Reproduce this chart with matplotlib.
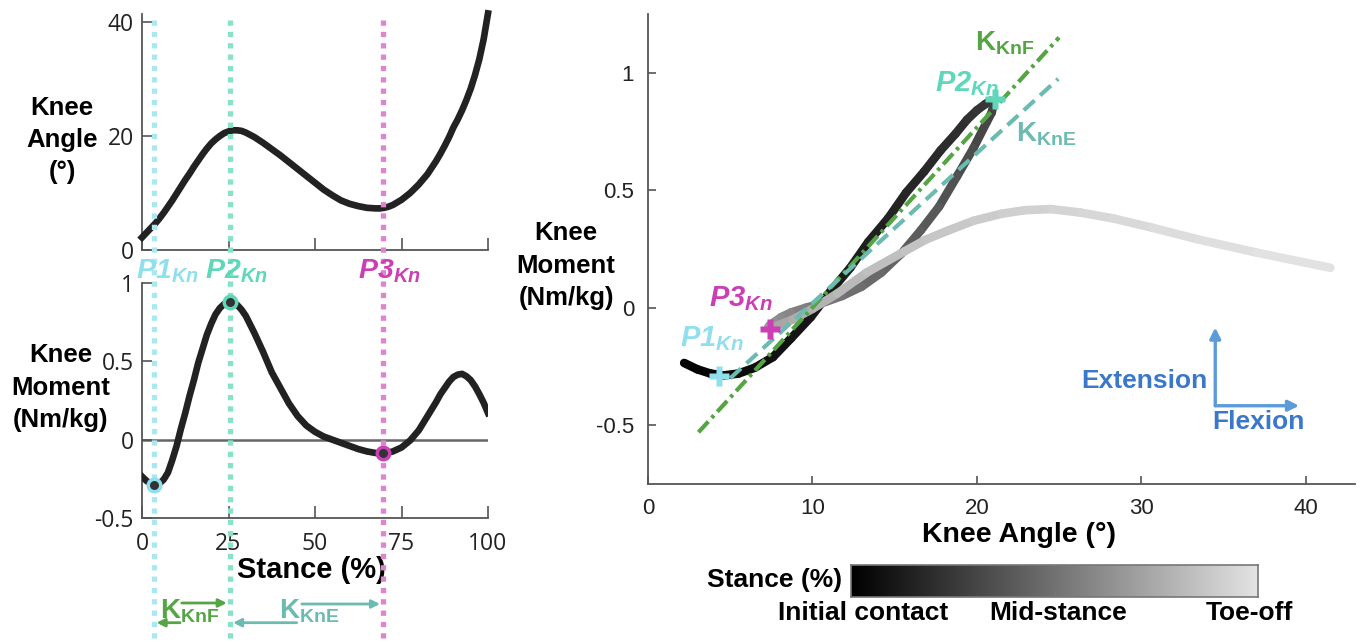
import matplotlib
matplotlib.use('Agg')
import matplotlib.pyplot as plt
from matplotlib.collections import LineCollection
from matplotlib.colors import LinearSegmentedColormap
import numpy as np

plt.rcParams['font.family'] = ['Liberation Sans', 'DejaVu Sans']
plt.rcParams['mathtext.fontset'] = 'custom'
plt.rcParams['mathtext.rm'] = 'Liberation Sans'
plt.rcParams['mathtext.sf'] = 'Liberation Sans:italic:bold'
plt.rcParams['mathtext.bf'] = 'Liberation Sans:bold'

# stance (%) - finer where the curves bend
stance = [0, 1.25, 2.5, 3.75, 5, 6.25, 7.5, 8.75, 10, 11.25, 12.5, 13.75, 15,
          16.25, 17.5, 18.75, 20, 21.25, 22.5, 23.75, 25, 26.25, 27.5, 28.75,
          30, 32.5, 35, 37.5, 40, 42.5, 45, 47.5, 50, 52.5, 55, 57.5, 60, 62.5,
          65, 66.25, 67.5, 68.75, 70, 71.25, 72.5, 75, 77.5, 80, 82.5, 85,
          86.25, 87.5, 88.75, 90, 91.25, 92.5, 93.75, 95, 96.25, 97.5, 98.75, 100]
knee_angle = [2.2, 3.0, 3.8, 4.6, 5.5, 6.5, 7.6, 8.7, 9.9, 11.1, 12.3, 13.4, 14.6,
              15.7, 16.8, 17.8, 18.7, 19.4, 20.0, 20.5, 20.8, 21.0, 21.0, 20.9,
              20.6, 19.8, 18.8, 17.7, 16.6, 15.4, 14.2, 13.0, 11.8, 10.6, 9.6,
              8.7, 8.1, 7.7, 7.4, 7.35, 7.3, 7.3, 7.4, 7.6, 7.9, 8.8, 10.0, 11.5,
              13.3, 15.6, 16.9, 18.3, 19.8, 21.5, 22.9, 24.5, 26.3, 28.3, 30.7,
              33.5, 37.0, 41.5]
knee_moment = [-0.235, -0.262, -0.28, -0.288, -0.28, -0.255, -0.21, -0.13, -0.04,
               0.07, 0.17, 0.28, 0.38, 0.49, 0.58, 0.67, 0.74, 0.80, 0.84, 0.866,
               0.88, 0.879, 0.86, 0.83, 0.79, 0.68, 0.56, 0.43, 0.33, 0.23, 0.15,
               0.09, 0.05, 0.02, 0.0, -0.02, -0.04, -0.06, -0.075, -0.08, -0.085,
               -0.087, -0.085, -0.082, -0.075, -0.05, -0.005, 0.06, 0.15, 0.24,
               0.29, 0.33, 0.37, 0.40, 0.415, 0.42, 0.405, 0.38, 0.34, 0.29, 0.235,
               0.17]

# key events
event_names = ['P1', 'P2', 'P3']
event_stance = [3.5, 25.5, 69.7]
event_moment = [-0.29, 0.88, -0.087]
event_angle = [4.3, 21.1, 7.4]
event_moment_r = [-0.29, 0.89, -0.09]
event_text = ['#8fdfee', '#5ed7ba', '#cc3fb4']
event_line = ['#a9e7f3', '#88e2c8', '#df85d0']

# stiffness fits (angle, moment) end points
kknf_x = [3.07, 25.0]
kknf_y = [-0.53, 1.15]
kkne_x = [5.0, 24.95]
kkne_y = [-0.30, 0.974]
green = '#55a545'
teal = '#6cbbb0'
blue_txt = '#3b78c9'
blue_arr = '#5b9bd8'

bar_labels = ['Initial contact', 'Mid-stance', 'Toe-off']
bar_label_pos = [3, 51, 98]

W, H = 1362, 641
fig = plt.figure(figsize=(W / 100, H / 100), dpi=100)


def event_label(name):
    return r'$\mathsf{' + name + r'}_{\mathsf{Kn}}$'


def stacked_label(x, ys, lines):
    # one text per line so each line keeps its own box
    for y, line in zip(ys, lines):
        fig.text(x / W, 1 - y / H, line, ha='center', va='center',
                 fontsize=18.5, fontweight='bold')


def style_left(ax):
    for s in ['top', 'right']:
        ax.spines[s].set_visible(False)
    for s in ['left', 'bottom']:
        ax.spines[s].set_color('#555')
        ax.spines[s].set_linewidth(1.3)
    ax.tick_params(direction='in', length=9, width=1.2, colors='#555',
                   labelcolor='#222', labelsize=16.5)
    ax.tick_params(axis='y', pad=6, length=7)
    ax.tick_params(axis='x', pad=10)
    for lab in ax.get_xticklabels() + ax.get_yticklabels():
        lab.set_fontfamily('Open Sans')


# knee angle vs stance
ax1 = fig.add_axes([142 / W, 1 - 250 / H, 346 / W, 236 / H])
ax1.plot(stance, knee_angle, color='#222', lw=4.8, clip_on=False, zorder=3,
         solid_joinstyle='round')
ax1.set_xlim(0, 100)
ax1.set_ylim(0, 41.4)
ax1.set_yticks([0, 20, 40])
ax1.set_xticks([0, 25, 50, 75, 100])
ax1.set_xticklabels([])
style_left(ax1)
stacked_label(62, [108, 140, 172], ['Knee', 'Angle', '(°)'])

# knee moment vs stance
ax2 = fig.add_axes([142 / W, 1 - 518 / H, 346 / W, 235 / H])
ax2.axhline(0, color='#666', lw=1.8, zorder=1)
ax2.plot(stance, knee_moment, color='#222', lw=4.8, zorder=3, solid_joinstyle='round')
ax2.set_xlim(0, 100)
ax2.set_ylim(-0.5, 1)
ax2.set_yticks([-0.5, 0, 0.5, 1])
ax2.set_yticklabels(['-0.5', '0', '0.5', '1'])
ax2.set_xticks([0, 25, 50, 75, 100])
style_left(ax2)
stacked_label(61, [355, 388, 420], ['Knee', 'Moment', '(Nm/kg)'])
fig.text(311 / W, 1 - 570 / H, 'Stance (%)', ha='center', va='center',
         fontsize=21, fontweight='bold')

# overlay for event lines spanning the left panels
ov = fig.add_axes([142 / W, 0, 346 / W, 1], zorder=5)
ov.set_xlim(0, 100)
ov.set_ylim(H, 0)
ov.axis('off')
ov.patch.set_alpha(0)
label_left = [-1.6, 18.2, 62.4]
for i, name in enumerate(event_names):
    ov.plot([event_stance[i]] * 2, [20, H], color=event_line[i], lw=3.8,
            linestyle=(0, (1, 1.15)), solid_capstyle='butt')
    ov.plot(event_stance[i], event_moment[i], 'o', transform=ax2.transData,
            ms=9, mfc='#333', mec=event_text[i], mew=2.5, zorder=6)
    ov.text(label_left[i], 278, event_label(name),
            color=event_text[i], fontsize=20.5, ha='left', va='baseline')

arrow_kw = dict(arrowstyle='-|>', lw=2, mutation_scale=12, shrinkA=0, shrinkB=0)
ov.annotate('', xy=(24.5, 603), xytext=(11.5, 603), arrowprops=dict(color=green, **arrow_kw))
ov.annotate('', xy=(4.2, 622.7), xytext=(11.0, 622.7), arrowprops=dict(color=green, **arrow_kw))
ov.annotate('', xy=(26.3, 622.7), xytext=(44.7, 622.7), arrowprops=dict(color=teal, **arrow_kw))
ov.annotate('', xy=(68.8, 604), xytext=(46.2, 604), arrowprops=dict(color=teal, **arrow_kw))
ov.text(5.3, 618, r'$\mathbf{K}_{\mathbf{KnF}}$', color=green, fontsize=20,
        ha='left', va='baseline')
ov.text(39.7, 618, r'$\mathbf{K}_{\mathbf{KnE}}$', color=teal, fontsize=20,
        ha='left', va='baseline')

# knee moment vs knee angle
ax3 = fig.add_axes([648 / W, 1 - 484 / H, 707 / W, 470 / H])
cmap = LinearSegmentedColormap.from_list('stance', ['#000000', '#e3e3e3'])
pts = np.column_stack([knee_angle, knee_moment])
segs = np.stack([pts[:-1], pts[1:]], axis=1)
st = np.array(stance)
mid = (st[:-1] + st[1:]) / 2 / 100
lc = LineCollection(segs, colors=cmap(mid), linewidths=6.2, capstyle='round',
                    joinstyle='round', zorder=2)
ax3.add_collection(lc)
ax3.plot(kknf_x, kknf_y, color=green, lw=3, linestyle=(0, (3.5, 1.2, 0.8, 1.2)), zorder=4)
ax3.plot(kkne_x, kkne_y, color=teal, lw=3, linestyle=(0, (3.5, 1.8)), zorder=4)
for i in range(3):
    ax3.plot(event_angle[i], event_moment_r[i], 'P', ms=14, color=event_text[i],
             mec='none', zorder=6)
ax3.set_xlim(0, 43)
ax3.set_ylim(-0.75, 1.25)
ax3.set_xticks([0, 10, 20, 30, 40])
ax3.set_yticks([-0.5, 0, 0.5, 1])
ax3.set_yticklabels(['-0.5', '0', '0.5', '1'])
for s in ['top', 'right']:
    ax3.spines[s].set_visible(False)
for s in ['left', 'bottom']:
    ax3.spines[s].set_color('#555')
    ax3.spines[s].set_linewidth(1.3)
ax3.tick_params(direction='in', length=6, width=1.2, colors='#555',
                labelcolor='#222', labelsize=16, pad=10)

r_label_pos = [(1.95, -0.162), (17.45, 0.923), (3.7, 0.0085)]
for i, name in enumerate(event_names):
    ax3.text(r_label_pos[i][0], r_label_pos[i][1], event_label(name),
             color=event_text[i], fontsize=21, ha='left', va='baseline', zorder=7)
ax3.text(19.9, 1.094, r'$\mathbf{K}_{\mathbf{KnF}}$', color=green, fontsize=20,
         ha='left', va='baseline')
ax3.text(22.4, 0.71, r'$\mathbf{K}_{\mathbf{KnE}}$', color=teal, fontsize=20,
         ha='left', va='baseline')

ax3.annotate('', xy=(34.5, -0.084), xytext=(34.5, -0.417),
             arrowprops=dict(arrowstyle='-|>', lw=2.4, color=blue_arr,
                             mutation_scale=16, shrinkA=0, shrinkB=0))
ax3.annotate('', xy=(39.6, -0.417), xytext=(34.5, -0.417),
             arrowprops=dict(arrowstyle='-|>', lw=2.4, color=blue_arr,
                             mutation_scale=16, shrinkA=0, shrinkB=0))
ax3.text(34.0, -0.31, 'Extension', color=blue_txt, fontsize=19, fontweight='bold',
         ha='right', va='center')
ax3.text(34.3, -0.485, 'Flexion', color=blue_txt, fontsize=19, fontweight='bold',
         ha='left', va='center')

stacked_label(566, [233, 266, 298], ['Knee', 'Moment', '(Nm/kg)'])
fig.text(1019 / W, 1 - 535 / H, 'Knee Angle (°)', ha='center', va='center',
         fontsize=20.5, fontweight='bold')

# stance colour bar
cax = fig.add_axes([851 / W, 1 - 597 / H, 407 / W, 32 / H])
cax.imshow(np.linspace(0, 1, 256)[None, :], aspect='auto', cmap=cmap,
           extent=[0, 100, 0, 1])
for s in cax.spines.values():
    s.set_color('#777')
    s.set_linewidth(1.2)
cax.set_yticks([])
cax.set_xticks([50])
cax.set_xticklabels([])
cax.tick_params(direction='in', length=4, colors='#777')
for pos, lab in zip(bar_label_pos, bar_labels):
    cax.text(pos, -0.5, lab, transform=cax.transData, ha='center', va='center',
             fontsize=19, fontweight='bold')
fig.text(842 / W, 1 - 580 / H, 'Stance (%)', ha='right', va='center',
         fontsize=19, fontweight='bold')

fig.savefig('out.png', dpi=100)
